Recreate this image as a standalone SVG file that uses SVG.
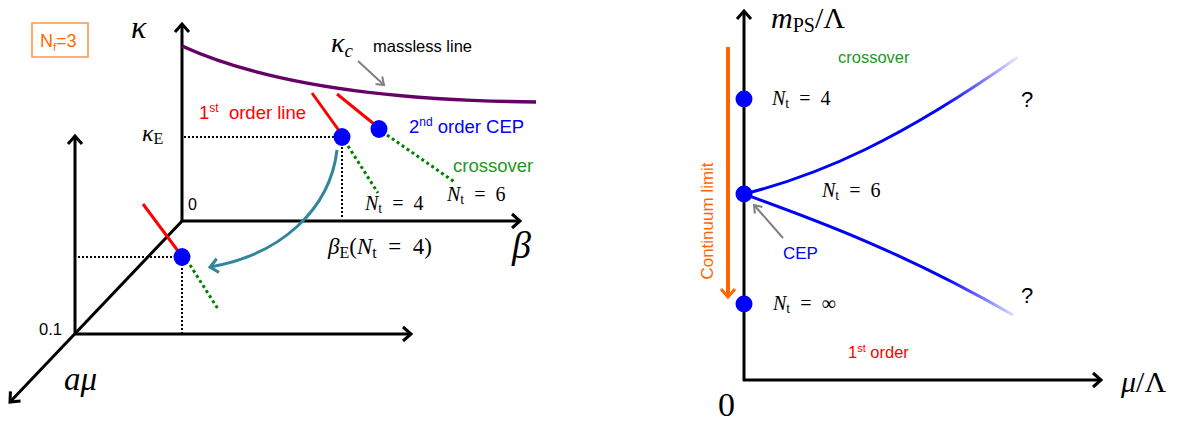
<svg xmlns="http://www.w3.org/2000/svg" width="1186" height="423" viewBox="0 0 1186 423">
<style>
.sans{font-family:"Liberation Sans",Arial,sans-serif}
.math{font-family:"Liberation Serif","Times New Roman",serif;font-style:italic}
.rm{font-style:normal}
.ax{stroke:#000;stroke-width:3;fill:none}
.dot{stroke:#000;stroke-width:2;stroke-dasharray:2 2;fill:none}
.gdot{stroke:#008000;stroke-width:3;stroke-dasharray:3 3;fill:none}
.red{stroke:#ff0000;stroke-width:3;fill:none}
.pt{fill:#0000ff}
.gray{stroke:#808080;stroke-width:2;fill:none}
</style>
<defs>
<marker id="ah" markerWidth="16" markerHeight="18" refX="12" refY="9" orient="auto" markerUnits="userSpaceOnUse"><path d="M4,2 L12,9 L4,16" fill="none" stroke="#000" stroke-width="3"/></marker>
<marker id="ahg" markerWidth="14" markerHeight="14" refX="10" refY="7" orient="auto" markerUnits="userSpaceOnUse"><path d="M3,2 L10,7 L3,12" fill="none" stroke="#808080" stroke-width="2"/></marker>
<marker id="aht" markerWidth="16" markerHeight="18" refX="12" refY="9" orient="auto" markerUnits="userSpaceOnUse"><path d="M4,2 L12,9 L4,16" fill="none" stroke="#31859c" stroke-width="3"/></marker>
<marker id="aho" markerWidth="16" markerHeight="18" refX="12" refY="9" orient="auto" markerUnits="userSpaceOnUse"><path d="M4,2 L12,9 L4,16" fill="none" stroke="#ff6600" stroke-width="3"/></marker>
<linearGradient id="gu" gradientUnits="userSpaceOnUse" x1="945" y1="108" x2="1018" y2="57"><stop offset="0" stop-color="#0000ff"/><stop offset="1" stop-color="#0000ff" stop-opacity="0.08"/></linearGradient>
<linearGradient id="gl" gradientUnits="userSpaceOnUse" x1="950" y1="272" x2="1013" y2="315"><stop offset="0" stop-color="#0000ff"/><stop offset="1" stop-color="#0000ff" stop-opacity="0.15"/></linearGradient>
</defs>

<!-- LEFT PANEL -->
<g id="nf-box">
<rect x="32" y="23" width="56" height="34" fill="none" stroke="#f79646" stroke-width="1.5"/>
<text class="sans" x="40" y="47" font-size="18" fill="#ff6a00">N<tspan font-size="11" dy="4">f</tspan><tspan dy="-4">=3</tspan></text>
</g>

<g id="axes-left">
<line class="ax" x1="182" y1="221" x2="182" y2="24" marker-end="url(#ah)"/>
<line class="ax" x1="181" y1="221" x2="520" y2="221" marker-end="url(#ah)"/>
<line class="ax" x1="75" y1="335" x2="75" y2="136" marker-end="url(#ah)"/>
<line class="ax" x1="74" y1="334" x2="411" y2="334" marker-end="url(#ah)"/>
<line class="ax" x1="183" y1="220" x2="10" y2="402" marker-end="url(#ah)"/>
</g>

<g id="massless-line">
<path d="M182,46 Q300,100 536,102" fill="none" stroke="#660066" stroke-width="3.5"/>
<line class="gray" x1="358" y1="61" x2="384" y2="85" marker-end="url(#ahg)"/>
</g>

<g id="guides-left">
<line class="dot" x1="184" y1="137" x2="338" y2="137"/>
<line class="dot" x1="342" y1="143" x2="342" y2="219"/>
<line class="dot" x1="78" y1="257" x2="176" y2="257"/>
<line class="dot" x1="182" y1="264" x2="182" y2="333"/>
</g>

<g id="cep-nt4">
<line class="red" x1="312" y1="93" x2="340" y2="132"/>
<line class="gdot" x1="348" y1="146" x2="378" y2="193"/>
<ellipse class="pt" cx="342" cy="137" rx="8.5" ry="9"/>
</g>
<g id="cep-nt6">
<line class="red" x1="337" y1="94" x2="374" y2="124"/>
<line class="gdot" x1="387" y1="135" x2="456" y2="183"/>
<ellipse class="pt" cx="379" cy="129" rx="8.5" ry="9"/>
</g>
<g id="cep-mu">
<line class="red" x1="143" y1="204" x2="178" y2="251"/>
<line class="gdot" x1="190" y1="265" x2="218" y2="309"/>
<ellipse class="pt" cx="182" cy="257" rx="8.5" ry="9"/>
</g>

<g id="teal-arrow">
<path d="M337,150 C330,210 280,255 210,267" fill="none" stroke="#31859c" stroke-width="3" marker-end="url(#aht)"/>
</g>

<g id="labels-left">
<text class="math" x="131" y="38" font-size="32">κ</text>
<text class="math" x="331" y="52" font-size="28">κ<tspan font-size="19" dy="5">c</tspan></text>
<text class="sans" x="373" y="52" font-size="16.5" fill="#000">massless line</text>
<text class="sans" x="199" y="119" font-size="18.5" fill="#ff0000">1<tspan font-size="12" dy="-7">st</tspan><tspan dy="7" xml:space="preserve">  order line</tspan></text>
<text class="sans" x="409" y="133" font-size="18.5" fill="#0000ff">2<tspan font-size="12" dy="-7">nd</tspan><tspan dy="7"> order CEP</tspan></text>
<text class="sans" x="453" y="172" font-size="18.5" fill="#1a9a1a">crossover</text>
<text class="math" x="142" y="141" font-size="24">κ<tspan class="rm" font-size="16" dy="3">E</tspan></text>
<text class="math" x="447" y="201" font-size="20">N<tspan class="rm" font-size="14" dy="3">t</tspan><tspan class="rm" dy="-3" xml:space="preserve">  =  6</tspan></text>
<text class="math" x="365" y="210" font-size="20">N<tspan class="rm" font-size="14" dy="3">t</tspan><tspan class="rm" dy="-3" xml:space="preserve">  =  4</tspan></text>
<text class="sans" x="188" y="210" font-size="16">0</text>
<text class="math" x="328" y="254" font-size="23">β<tspan class="rm" font-size="16" dy="4">E</tspan><tspan class="rm" dy="-4">(</tspan>N<tspan class="rm" font-size="16" dy="4">t</tspan><tspan class="rm" dy="-4" xml:space="preserve">  =  4)</tspan></text>
<text class="math" x="512" y="258" font-size="38">β</text>
<text class="sans" x="39" y="335" font-size="16.5">0.1</text>
<text class="math" x="64" y="390" font-size="33">aμ</text>
</g>

<!-- RIGHT PANEL -->
<g id="axes-right">
<line class="ax" x1="744" y1="381" x2="744" y2="11" marker-end="url(#ah)"/>
<line class="ax" x1="743" y1="380" x2="1101" y2="380" marker-end="url(#ah)"/>
</g>

<g id="continuum-limit">
<line x1="728" y1="47" x2="728" y2="297" stroke="#ff6600" stroke-width="4" marker-end="url(#aho)"/>
<text class="sans" transform="translate(713,221) rotate(-90)" text-anchor="middle" font-size="17" fill="#ff6600">Continuum limit</text>
</g>

<g id="phase-lines">
<path d="M744,194 C820,175 900,140 1018,57" fill="none" stroke="url(#gu)" stroke-width="3"/>
<path d="M744,194 C810,218 900,250 1013,315" fill="none" stroke="url(#gl)" stroke-width="3"/>
</g>

<g id="pt-nt4"><ellipse class="pt" cx="744" cy="99" rx="8.5" ry="8.5"/></g>
<g id="pt-cep"><ellipse class="pt" cx="744" cy="194" rx="8.5" ry="8.5"/></g>
<g id="pt-ntinf"><ellipse class="pt" cx="744" cy="304" rx="8.5" ry="8.5"/></g>

<g id="cep-pointer">
<line class="gray" x1="783" y1="238" x2="754" y2="205" marker-end="url(#ahg)"/>
</g>

<g id="labels-right">
<text class="math" x="771" y="28" font-size="30">m<tspan class="rm" font-size="20" dy="4">PS</tspan><tspan class="rm" dy="-4">/Λ</tspan></text>
<text class="sans" x="838" y="63" font-size="16.5" fill="#1a9a1a">crossover</text>
<text class="math" x="772" y="105" font-size="20">N<tspan class="rm" font-size="14" dy="3">t</tspan><tspan class="rm" dy="-3" xml:space="preserve">  =  4</tspan></text>
<text class="math" x="822" y="197" font-size="20">N<tspan class="rm" font-size="14" dy="3">t</tspan><tspan class="rm" dy="-3" xml:space="preserve">  =  6</tspan></text>
<text class="math" x="773" y="310" font-size="20">N<tspan class="rm" font-size="14" dy="3">t</tspan><tspan class="rm" dy="-3" xml:space="preserve">  =  ∞</tspan></text>
<text class="sans" x="783" y="259" font-size="17" fill="#0000ff">CEP</text>
<text class="sans" x="1021" y="107" font-size="22">?</text>
<text class="sans" x="1021" y="303" font-size="22">?</text>
<text class="sans" x="848" y="358" font-size="16.5" fill="#ff0000">1<tspan font-size="11" dy="-6">st</tspan><tspan dy="6"> order</tspan></text>
<text class="math" x="1121" y="392" font-size="30">μ<tspan class="rm">/Λ</tspan></text>
<text class="math rm" x="718" y="416" font-size="34">0</text>
</g>
</svg>
